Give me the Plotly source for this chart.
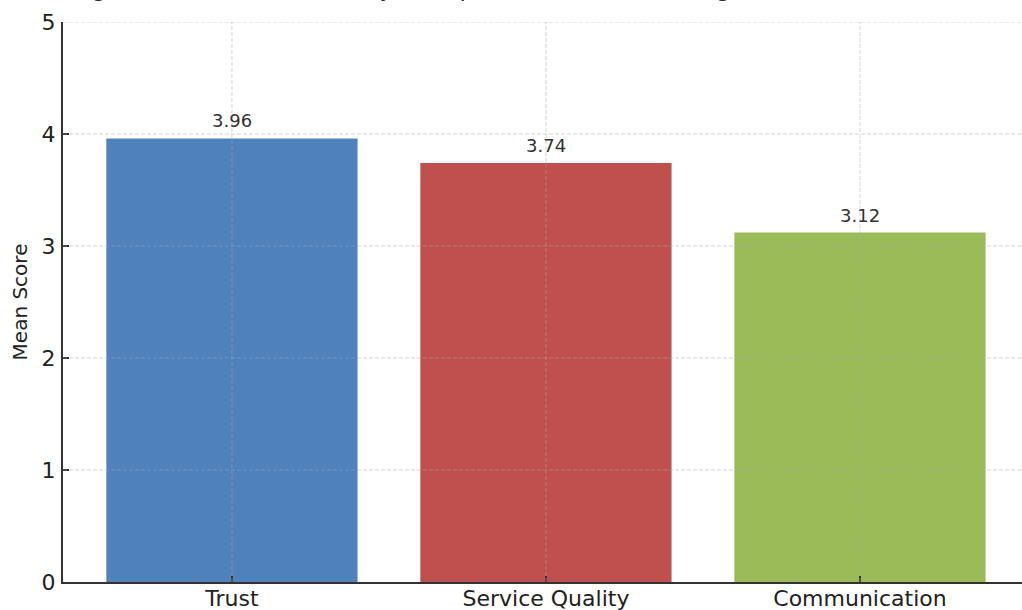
import plotly.graph_objects as go

categories = ["Trust", "Service Quality", "Communication"]
mean_scores = [3.96, 3.74, 3.12]
value_labels = ["3.96", "3.74", "3.12"]
bar_colors = ["#4F81BD", "#C0504D", "#9BBB59"]
y_ticks = [0, 1, 2, 3, 4, 5]
title_text = "Figure 2: Mean Scores of Key Perception Factors Influencing Customer Satisfaction and Loyalty"

FONT = "DejaVu Sans"
GRID = "rgba(170,170,170,0.5)"

fig = go.Figure()
fig.add_trace(go.Bar(
    x=categories, y=mean_scores, marker=dict(color=bar_colors, line=dict(width=0)),
    width=0.8, showlegend=False, hoverinfo="skip",
))

for c, v, t in zip(categories, mean_scores, value_labels):
    fig.add_annotation(x=c, y=v, text=t, showarrow=False, yanchor="bottom", yshift=5,
                       font=dict(family=FONT, size=18, color="#333333"))

# title, cut off at the top edge as in the reference
fig.add_annotation(text=title_text, xref="paper", yref="paper", x=0.01, xanchor="left",
                   y=1.032, yanchor="bottom", showarrow=False,
                   font=dict(family=FONT, size=22, color="#222222"))

shapes = []
for yt in y_ticks[1:]:
    shapes.append(dict(type="line", xref="paper", x0=0, x1=1, yref="y", y0=yt, y1=yt,
                       line=dict(color=GRID, width=1, dash="4px,2px"), layer="above"))
for c in categories:
    shapes.append(dict(type="line", xref="x", x0=c, x1=c, yref="paper", y0=0, y1=1,
                       line=dict(color=GRID, width=1, dash="4px,2px"), layer="above"))
fig.update_layout(shapes=shapes)

fig.update_layout(
    width=1022, height=610,
    margin=dict(l=63, r=0, t=22, b=28),
    paper_bgcolor="white", plot_bgcolor="white",
    font=dict(family=FONT, color="#222222"),
    xaxis=dict(range=[-0.538, 2.516], showgrid=False, showline=True, linecolor="#333333",
               linewidth=2, ticks="inside", ticklen=6, tickwidth=1.5, tickcolor="#333333",
               tickfont=dict(family=FONT, size=22, color="#222222"), zeroline=False,
               automargin=False, ticklabelstandoff=-4),
    yaxis=dict(range=[0, 5], tickvals=y_ticks, showgrid=False, showline=True,
               linecolor="#333333", linewidth=2, ticks="inside", ticklen=6, tickwidth=1.5,
               tickcolor="#333333", tickfont=dict(family=FONT, size=22, color="#222222"),
               ticklabelstandoff=1, automargin=False,
               title=dict(text="Mean Score", font=dict(family=FONT, size=20, color="#222222"),
                          standoff=9),
               zeroline=False),
)

fig.write_html("out.html")
